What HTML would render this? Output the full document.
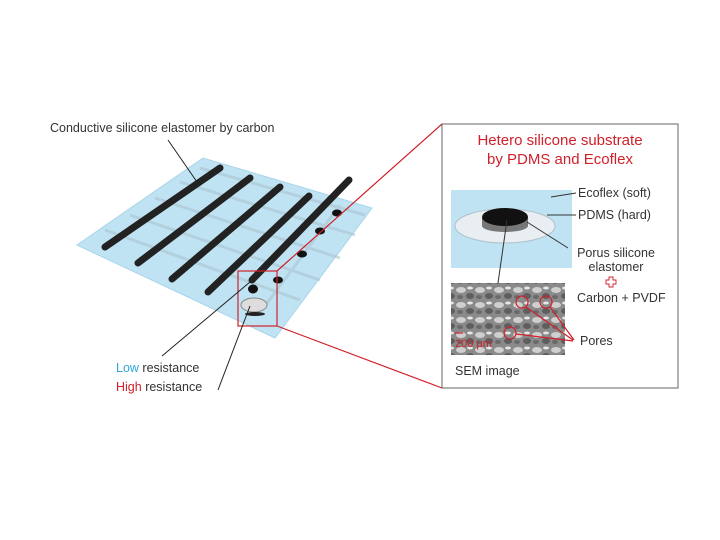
<!DOCTYPE html>
<html><head><meta charset="utf-8"><style>
body{margin:0;background:#fff;}
svg{display:block;font-family:"Liberation Sans",sans-serif;}
</style></head><body>
<svg width="720" height="540" viewBox="0 0 720 540">
<defs>
<pattern id="sem" width="19" height="15" patternUnits="userSpaceOnUse">
<rect width="19" height="15" fill="#8a8a8a"/>
<ellipse cx="5" cy="5" rx="5" ry="3" fill="#cfcfcf"/>
<ellipse cx="14" cy="11" rx="4" ry="3" fill="#5e5e5e"/>
<ellipse cx="14" cy="3" rx="3" ry="1.5" fill="#e6e6e6"/>
<ellipse cx="4" cy="12" rx="3" ry="2" fill="#6a6a6a"/>
</pattern>
</defs>
<polygon points="77,245 203,158 372,208 275,338" fill="#bfe3f3" stroke="#a8d4ea"/>
<g stroke="#a9c2cc" stroke-width="3" opacity="0.55">
<line x1="105" y1="230" x2="300" y2="300"/>
<line x1="130" y1="215" x2="320" y2="280"/>
<line x1="155" y1="198" x2="340" y2="258"/>
<line x1="180" y1="182" x2="355" y2="235"/>
<line x1="200" y1="168" x2="365" y2="215"/>
<line x1="340" y1="205" x2="262" y2="310"/>
</g>
<g stroke="#222" stroke-width="7" stroke-linecap="round">
<line x1="220" y1="168" x2="105" y2="247"/>
<line x1="250" y1="178" x2="138" y2="263"/>
<line x1="280" y1="187" x2="172" y2="279"/>
<line x1="309" y1="196" x2="208" y2="292"/>
<line x1="349" y1="180" x2="252" y2="280"/>
</g>
<g fill="#111">
<ellipse cx="337" cy="213" rx="5" ry="3.5"/>
<ellipse cx="320" cy="231" rx="5" ry="3.5"/>
<ellipse cx="302" cy="254" rx="5" ry="3.5"/>
<ellipse cx="278" cy="280" rx="5" ry="3.5"/>
<ellipse cx="253" cy="289" rx="5" ry="4.5"/>
</g>
<ellipse cx="254" cy="305" rx="13" ry="7" fill="#ddd" stroke="#888"/>
<ellipse cx="255" cy="314" rx="10" ry="2" fill="#222"/>
<rect x="238" y="271" width="39" height="55" fill="none" stroke="#d0202a" stroke-width="1.2"/>
<line x1="277" y1="271" x2="442" y2="124" stroke="#d0202a" stroke-width="1.2"/>
<line x1="277" y1="326" x2="442" y2="388" stroke="#d0202a" stroke-width="1.2"/>
<text x="50" y="132" font-size="12.5" fill="#333">Conductive silicone elastomer by carbon</text>
<line x1="168" y1="140" x2="197" y2="182" stroke="#222"/>
<line x1="162" y1="356" x2="250" y2="282" stroke="#222"/>
<line x1="218" y1="390" x2="250" y2="306" stroke="#222"/>
<text x="116" y="372" font-size="12.5" fill="#333"><tspan fill="#2fa8d8">Low</tspan> resistance</text>
<text x="116" y="391" font-size="12.5" fill="#333"><tspan fill="#d0202a">High</tspan> resistance</text>
<rect x="442" y="124" width="236" height="264" fill="#fff" stroke="#666"/>
<text x="560" y="145" font-size="15" fill="#d0202a" text-anchor="middle">Hetero silicone substrate</text>
<text x="560" y="164" font-size="15" fill="#d0202a" text-anchor="middle">by PDMS and Ecoflex</text>
<rect x="451" y="190" width="121" height="78" fill="#bfe3f3"/>
<ellipse cx="505" cy="226" rx="50" ry="17" fill="#e8eef2" stroke="#b0c0c8"/>
<rect x="482" y="217" width="46" height="9" fill="#777"/>
<ellipse cx="505" cy="226" rx="23" ry="6" fill="#777"/>
<ellipse cx="505" cy="217" rx="23" ry="9" fill="#111"/>
<line x1="551" y1="197" x2="576" y2="193" stroke="#333"/>
<line x1="547" y1="215" x2="576" y2="215" stroke="#333"/>
<line x1="527" y1="222" x2="568" y2="248" stroke="#333"/>
<line x1="507" y1="220" x2="498" y2="283" stroke="#333"/>
<text x="578" y="197" font-size="12.5" fill="#333">Ecoflex (soft)</text>
<text x="578" y="219" font-size="12.5" fill="#333">PDMS (hard)</text>
<text x="616" y="257" font-size="12.5" fill="#333" text-anchor="middle">Porus silicone</text>
<text x="616" y="271" font-size="12.5" fill="#333" text-anchor="middle">elastomer</text>
<path d="M609,277 h4 v3 h3 v4 h-3 v3 h-4 v-3 h-3 v-4 h3 z" fill="none" stroke="#d0202a" stroke-width="0.9"/>
<text x="577" y="302" font-size="12.5" fill="#333">Carbon + PVDF</text>
<rect x="451" y="283" width="114" height="72" fill="url(#sem)"/>
<g fill="none" stroke="#d0202a" stroke-width="1.2">
<circle cx="522" cy="302" r="6"/><circle cx="546" cy="302" r="6"/><circle cx="510" cy="333" r="6"/>
<line x1="526" y1="307" x2="573" y2="340"/><line x1="550" y1="307" x2="574" y2="340"/><line x1="516" y1="334" x2="573" y2="341"/>
<line x1="455" y1="333" x2="463" y2="333"/>
</g>
<text x="455" y="347" font-size="11" fill="#d0202a">200 μm</text>
<text x="580" y="345" font-size="12.5" fill="#333">Pores</text>
<text x="455" y="375" font-size="12.5" fill="#333">SEM image</text>
</svg>
</body></html>
